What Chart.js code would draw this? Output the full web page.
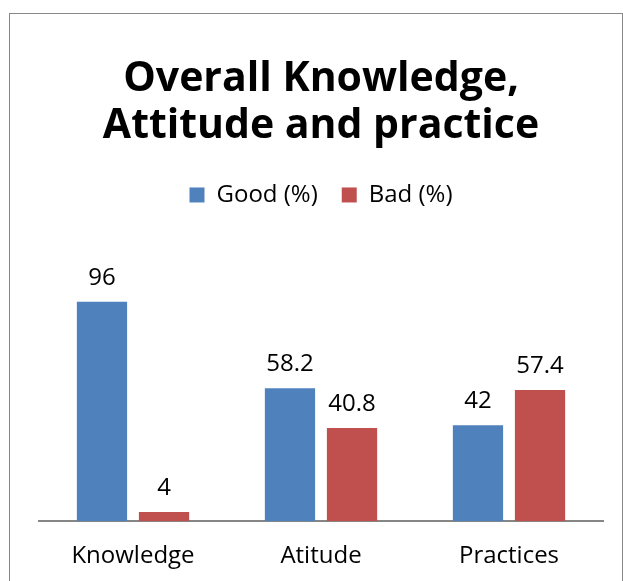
<!DOCTYPE html>
<html>
<head>
<meta charset="utf-8">
<script src="https://cdn.jsdelivr.net/npm/chart.js@4.4.0/dist/chart.umd.min.js"></script>
<style>
  body { margin: 0; background: #fff; overflow: hidden; }
  #box {
    position: absolute; left: 9px; top: 13px;
    width: 612px; height: 600px;
    border-left: 1px solid #888; border-top: 1px solid #888; border-right: 1px solid #888;
  }
</style>
</head>
<body>
<div id="box"><canvas id="myChart" width="612" height="592"></canvas></div>
<script>
const categories = ["Knowledge", "Atitude", "Practices"];
const goodPct = [96, 58.2, 42];
const badPct = [4, 40.8, 57.4];

const FONT = "'Open Sans', sans-serif";

// draws the value above each bar
const barLabels = {
  id: 'barLabels',
  afterDatasetsDraw(chart) {
    const ctx = chart.ctx;
    ctx.save();
    ctx.fillStyle = '#000';
    ctx.font = '24px ' + FONT;
    ctx.textAlign = 'center';
    ctx.textBaseline = 'bottom';
    chart.data.datasets.forEach((ds, i) => {
      chart.getDatasetMeta(i).data.forEach((bar, j) => {
        ctx.fillText(ds.data[j], bar.x, bar.y - 12);
      });
    });
    ctx.restore();
  }
};

// extra room under the legend
const legendGap = {
  id: 'legendGap',
  beforeInit(chart) {
    const fit = chart.legend.fit;
    chart.legend.fit = function () {
      fit.bind(chart.legend)();
      this.height += 30;
    };
  }
};

const ctx = document.getElementById('myChart');
new Chart(ctx, {
  type: 'bar',
  data: {
    labels: categories,
    datasets: [
      { label: 'Good (%)', data: goodPct, backgroundColor: '#4F81BD' },
      { label: 'Bad (%)', data: badPct, backgroundColor: '#C0504D' }
    ]
  },
  options: {
    responsive: false,
    animation: false,
    categoryPercentage: 0.66,
    barPercentage: 0.81,
    layout: { padding: { left: 29, right: 19, top: 0, bottom: 14 } },
    plugins: {
      title: {
        display: true,
        text: ['Overall Knowledge,', 'Attitude and practice'],
        color: '#000',
        font: { family: FONT, size: 41, weight: 'bold', lineHeight: 1.146 },
        padding: { top: 42, bottom: 9 }
      },
      legend: {
        labels: {
          color: '#000',
          font: { family: FONT, size: 24 },
          boxWidth: 15, boxHeight: 15,
          padding: 24
        }
      },
      tooltip: { enabled: false }
    },
    scales: {
      x: {
        grid: { display: false, drawTicks: false },
        border: { color: '#868686', width: 2 },
        ticks: { color: '#000', font: { family: FONT, size: 24 }, padding: 21 }
      },
      y: {
        display: false,
        min: 0, max: 120
      }
    }
  },
  plugins: [barLabels, legendGap]
});
</script>
</body>
</html>
